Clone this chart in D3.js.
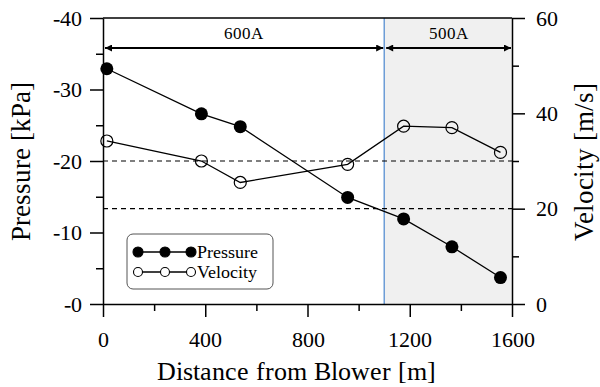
<!DOCTYPE html>
<html>
<head>
<meta charset="utf-8">
<script src="https://cdn.jsdelivr.net/npm/d3@7"></script>
<style>
  @font-face { font-family: "ChartSerif"; src: local("Liberation Serif"), local("LiberationSerif"), local("Times New Roman"); }
  body { margin: 0; background: #fff; }
</style>
</head>
<body>
<div id="graph"></div>
<script>
// data
const distance = [15, 385, 537, 957, 1176, 1365, 1555];
const pressure = [-32.9, -26.6, -24.8, -14.9, -11.9, -8.0, -3.7];
const velocity = [34.2, 30.0, 25.5, 29.3, 37.3, 37.0, 31.8];
const refVelocity = [20, 30];
const sectionBounds = [0, 1100, 1600];
const sectionLabels = ["600A", "500A"];
const xTicks = [0, 400, 800, 1200, 1600];
const xMinor = [200, 600, 1000, 1400];
const pTicks = [-40, -30, -20, -10, 0];
const pMinor = [-35, -25, -15, -5];
const vTicks = [0, 20, 40, 60];
const vMinor = [10, 30, 50];

const FONT = '"ChartSerif", "Liberation Serif", "Times New Roman", serif';
const width = 600, height = 387;
const margin = {top: 18, right: 88, bottom: 83, left: 103};
const plotW = width - margin.left - margin.right;
const plotH = height - margin.top - margin.bottom;

let root = d3.select("#graph")
    .append("svg")
    .attr("width", width)
    .attr("height", height)
    .style("font-family", FONT);

let svg = root.append("g")
    .attr("transform", `translate(${margin.left}, ${margin.top})`);

let x = d3.scaleLinear().domain([0, 1600]).range([0, plotW]);
let yP = d3.scaleLinear().domain([0, -40]).range([plotH, 0]);
let yV = d3.scaleLinear().domain([0, 60]).range([plotH, 0]);

// shaded 500A section
svg.append("rect")
    .attr("x", x(sectionBounds[1]))
    .attr("y", 0)
    .attr("width", x(sectionBounds[2]) - x(sectionBounds[1]))
    .attr("height", plotH)
    .attr("fill", "#f0f0f0");

svg.append("line")
    .attr("x1", x(sectionBounds[1])).attr("x2", x(sectionBounds[1]))
    .attr("y1", 0).attr("y2", plotH)
    .attr("stroke", "#4a86cf")
    .attr("stroke-width", 1.2);

// dashed reference lines
svg.selectAll(".ref").data(refVelocity).enter()
    .append("line")
    .attr("x1", 0).attr("x2", plotW)
    .attr("y1", d => yV(d)).attr("y2", d => yV(d))
    .attr("stroke", "#000")
    .attr("stroke-width", 1.2)
    .attr("stroke-dasharray", "5,4");

// top border
svg.append("line")
    .attr("x1", 0).attr("x2", plotW)
    .attr("y1", 0).attr("y2", 0)
    .attr("stroke", "#000").attr("stroke-width", 1.5);

// series
let pData = distance.map((d, i) => [d, pressure[i]]);
let vData = distance.map((d, i) => [d, velocity[i]]);

svg.append("path")
    .datum(vData)
    .attr("fill", "none").attr("stroke", "#000").attr("stroke-width", 1.3)
    .attr("d", d3.line().x(d => x(d[0])).y(d => yV(d[1])));

svg.append("path")
    .datum(pData)
    .attr("fill", "none").attr("stroke", "#000").attr("stroke-width", 1.3)
    .attr("d", d3.line().x(d => x(d[0])).y(d => yP(d[1])));

svg.selectAll(".vdot").data(vData).enter()
    .append("circle")
    .attr("cx", d => x(d[0])).attr("cy", d => yV(d[1]))
    .attr("r", 6)
    .attr("fill", "none").attr("stroke", "#000").attr("stroke-width", 1.2);

svg.selectAll(".pdot").data(pData).enter()
    .append("circle")
    .attr("cx", d => x(d[0])).attr("cy", d => yP(d[1]))
    .attr("r", 6.5)
    .attr("fill", "#000");

// axes
function styleAxis(g) {
    g.attr("font-family", null).attr("font-size", null);
    g.selectAll("path").attr("stroke-width", 1.5);
    g.selectAll("line").attr("stroke-width", 1.5);
    g.selectAll("text").style("font-size", "22px").style("font-family", FONT);
}

let xAxis = svg.append("g")
    .attr("transform", `translate(0, ${plotH})`)
    .call(d3.axisBottom(x).tickValues(xTicks).tickSize(13).tickSizeOuter(0).tickPadding(13)
        .tickFormat(d => String(d)));
styleAxis(xAxis);
xAxis.selectAll("text").attr("dy", "0.75em");
svg.append("g")
    .attr("transform", `translate(0, ${plotH})`)
    .call(d3.axisBottom(x).tickValues(xMinor).tickSize(7).tickFormat(""))
    .call(g => g.select(".domain").remove())
    .call(styleAxis);

let yAxisL = svg.append("g")
    .call(d3.axisLeft(yP).tickValues(pTicks).tickSize(13).tickSizeOuter(0).tickPadding(8)
        .tickFormat(d => d === 0 ? "-0" : String(d)));
styleAxis(yAxisL);
svg.append("g")
    .call(d3.axisLeft(yP).tickValues(pMinor).tickSize(7).tickFormat(""))
    .call(g => g.select(".domain").remove())
    .call(styleAxis);

let yAxisR = svg.append("g")
    .attr("transform", `translate(${plotW}, 0)`)
    .call(d3.axisRight(yV).tickValues(vTicks).tickSize(13).tickSizeOuter(0).tickPadding(11)
        .tickFormat(d => String(d)));
styleAxis(yAxisR);
svg.append("g")
    .attr("transform", `translate(${plotW}, 0)`)
    .call(d3.axisRight(yV).tickValues(vMinor).tickSize(7).tickFormat(""))
    .call(g => g.select(".domain").remove())
    .call(styleAxis);

// axis titles
svg.append("text")
    .attr("x", 193).attr("y", plotH + 76)
    .style("text-anchor", "middle")
    .style("font-family", FONT)
    .style("font-size", "26px")
    .text("Distance from Blower [m]");

svg.append("text")
    .attr("transform", `translate(${-73}, ${plotH / 2 + 0.5}) rotate(-90)`)
    .style("text-anchor", "middle")
    .style("font-family", FONT)
    .style("font-size", "27px")
    .text("Pressure [kPa]");

svg.append("text")
    .attr("transform", `translate(${plotW + 81}, ${plotH / 2 + 1}) rotate(-90)`)
    .style("text-anchor", "middle")
    .style("font-family", FONT)
    .style("font-size", "27px")
    .text("Velocity [m/s]");

// section arrows
let defs = root.append("defs");
defs.append("marker")
    .attr("id", "arrow")
    .attr("viewBox", "0 0 10 10")
    .attr("refX", 10).attr("refY", 5)
    .attr("markerWidth", 9).attr("markerHeight", 7)
    .attr("markerUnits", "userSpaceOnUse")
    .attr("orient", "auto-start-reverse")
    .append("path")
    .attr("d", "M0,0 L10,5 L0,10 Z")
    .attr("fill", "#000");

const arrowY = 30;
sectionLabels.forEach(function(label, i) {
    let x0 = x(sectionBounds[i]) + 2, x1 = x(sectionBounds[i + 1]) - 1;
    svg.append("line")
        .attr("x1", x0).attr("x2", x1)
        .attr("y1", arrowY).attr("y2", arrowY)
        .attr("stroke", "#000").attr("stroke-width", 2)
        .attr("marker-start", "url(#arrow)")
        .attr("marker-end", "url(#arrow)");
    svg.append("text")
        .attr("x", (x(sectionBounds[i]) + x(sectionBounds[i + 1])) / 2)
        .attr("y", arrowY - 9)
        .style("text-anchor", "middle")
        .style("font-family", FONT)
        .style("font-size", "17px")
        .text(label);
});

// legend
let legend = svg.append("g").attr("transform", `translate(${24}, ${216})`);
legend.append("rect")
    .attr("width", 146).attr("height", 55)
    .attr("rx", 6)
    .attr("fill", "#fff").attr("stroke", "#555").attr("stroke-width", 1);

const legendItems = [
    {name: "Pressure", filled: true, y: 18},
    {name: "Velocity", filled: false, y: 38}
];
const legendX = [11, 38, 64];
legendItems.forEach(function(item) {
    legend.append("line")
        .attr("x1", legendX[0]).attr("x2", legendX[2])
        .attr("y1", item.y).attr("y2", item.y)
        .attr("stroke", "#000").attr("stroke-width", 1.3);
    legendX.forEach(function(lx) {
        legend.append("circle")
            .attr("cx", lx).attr("cy", item.y)
            .attr("r", item.filled ? 5 : 4.5)
            .attr("fill", item.filled ? "#000" : "#fff")
            .attr("stroke", "#000").attr("stroke-width", 1.1);
    });
    legend.append("text")
        .attr("x", legendX[2] + 6).attr("y", item.y)
        .attr("dy", "0.33em")
        .style("font-family", FONT)
        .style("font-size", "18px")
        .text(item.name);
});
</script>
</body>
</html>
